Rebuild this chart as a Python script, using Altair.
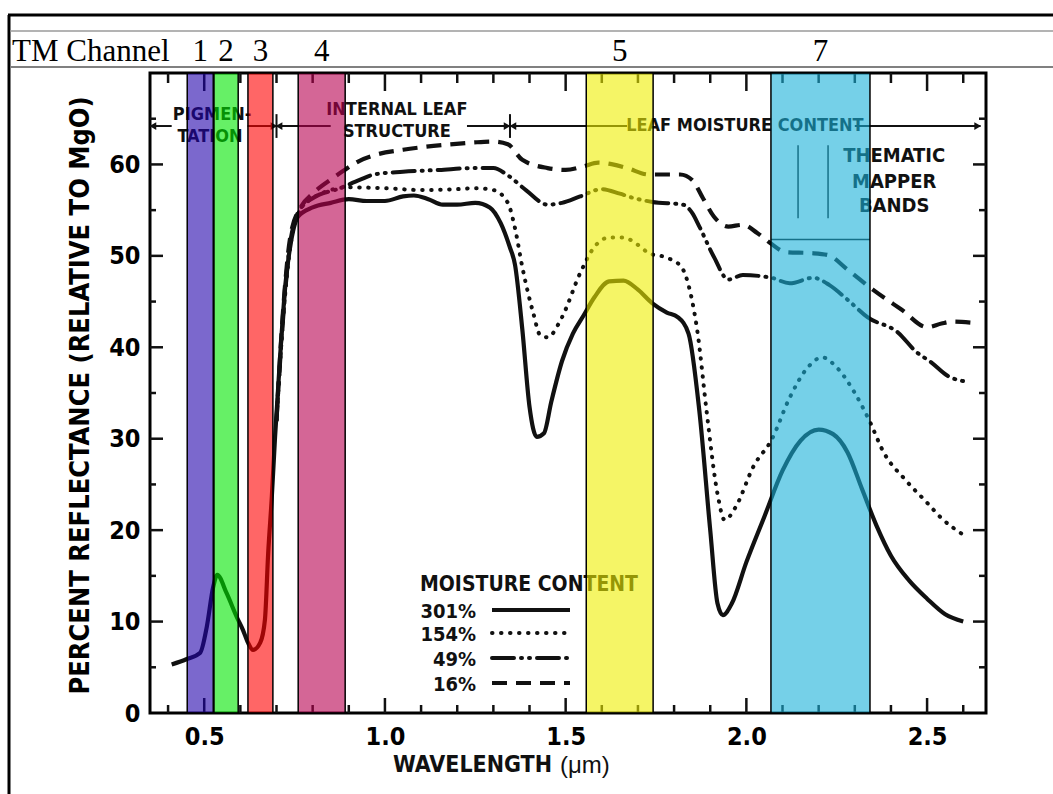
import altair as alt
import pandas as pd

# ---------------- data ----------------
# 301 % moisture (solid)
wl_301 = [0.41, 0.452, 0.489, 0.507, 0.525, 0.536, 0.562, 0.59, 0.607, 0.621,
          0.635, 0.655, 0.668, 0.677, 0.687, 0.696, 0.71, 0.725, 0.74, 0.76,
          0.80, 0.85, 0.90, 0.95, 1.00, 1.05, 1.08, 1.12, 1.16, 1.20,
          1.25, 1.29, 1.32, 1.345, 1.36, 1.38, 1.40, 1.42, 1.44, 1.46,
          1.49, 1.52, 1.55, 1.58, 1.62, 1.66, 1.70, 1.74, 1.78, 1.81,
          1.84, 1.87, 1.90, 1.92, 1.935, 1.96, 2.00, 2.05, 2.10, 2.15,
          2.20, 2.24, 2.28, 2.32, 2.36, 2.40, 2.45, 2.50, 2.55, 2.60]
r_301 = [5.3, 5.9, 6.6, 9.4, 13.8, 15.1, 13.1, 10.5, 9.1, 7.7,
         6.9, 7.7, 10.2, 17.5, 23.6, 30.2, 39.0, 47.0, 51.5, 54.3,
         55.3, 55.8, 56.2, 56.0, 56.0, 56.5, 56.6, 56.2, 55.6, 55.6,
         55.8, 55.3, 53.6, 51.0, 49.0, 42.0, 33.5, 30.2, 30.6, 34.0,
         38.5, 41.5, 43.5, 45.5, 47.2, 47.3, 46.3, 44.8, 43.8, 43.3,
         41.5, 33.0, 20.0, 12.0, 10.7, 12.0, 16.5, 21.5, 26.5, 29.8,
         31.0, 30.5, 28.5, 24.5, 20.5, 17.2, 14.5, 12.5, 10.8, 10.0]

# 154 % moisture (dotted)
wl_154 = [0.70, 0.72, 0.74, 0.76, 0.80, 0.85, 0.90, 1.00, 1.10, 1.20,
          1.25, 1.30, 1.34, 1.36, 1.38, 1.41, 1.43, 1.45, 1.49, 1.54,
          1.58, 1.62, 1.66, 1.70, 1.73, 1.78, 1.82, 1.845, 1.865, 1.89,
          1.92, 1.94, 1.97, 2.02, 2.07, 2.12, 2.17, 2.21, 2.25, 2.30,
          2.34, 2.38, 2.44, 2.50, 2.54, 2.60]
r_154 = [32.0, 44.0, 51.5, 54.8, 56.3, 57.2, 57.5, 57.4, 57.2, 57.3,
         57.4, 57.2, 55.8, 53.0, 48.8, 43.8, 41.3, 41.1, 43.3, 48.1,
         51.0, 52.0, 52.0, 51.2, 50.3, 49.8, 48.8, 46.0, 41.6, 33.0,
         24.0, 21.1, 22.5, 27.0, 29.9, 34.5, 37.8, 38.9, 37.8, 35.0,
         32.0, 28.5, 25.5, 23.0, 21.3, 19.5]

# 49 % moisture (dash-dot)
wl_49 = [0.70, 0.72, 0.74, 0.77, 0.80, 0.876, 0.93, 0.97, 1.05, 1.15,
         1.245, 1.30, 1.34, 1.39, 1.45, 1.49, 1.54, 1.60, 1.65, 1.69,
         1.74, 1.825, 1.85, 1.87, 1.91, 1.95, 1.99, 2.07, 2.12, 2.185,
         2.23, 2.28, 2.335, 2.42, 2.47, 2.51, 2.56, 2.60]
r_49 = [32.0, 44.0, 52.0, 55.3, 56.3, 57.4, 58.3, 58.9, 59.2, 59.4,
        59.6, 59.6, 58.8, 57.2, 55.6, 55.8, 56.5, 57.3, 56.8, 56.3,
        55.9, 55.6, 54.7, 53.2, 49.9, 47.4, 47.9, 47.6, 47.0, 47.6,
        46.8, 45.2, 43.3, 41.6, 39.5, 38.4, 36.8, 36.3]

# 16 % moisture (dashed)
wl_16 = [0.70, 0.72, 0.74, 0.77, 0.80, 0.856, 0.885, 0.93, 0.97, 1.05,
         1.105, 1.18, 1.245, 1.30, 1.34, 1.38, 1.45, 1.50, 1.55, 1.59,
         1.63, 1.67, 1.73, 1.817, 1.85, 1.88, 1.91, 1.95, 1.99, 2.03,
         2.066, 2.11, 2.18, 2.225, 2.28, 2.35, 2.43, 2.50, 2.54, 2.57,
         2.62]
r_16 = [32.0, 45.0, 52.5, 55.5, 56.8, 58.5, 59.3, 60.4, 61.0, 61.6,
        61.9, 62.2, 62.4, 62.5, 62.2, 60.5, 59.6, 59.4, 59.8, 60.2,
        60.0, 59.6, 58.9, 58.9, 58.3, 56.3, 54.3, 53.2, 53.4, 52.5,
        51.4, 50.4, 50.3, 50.1, 48.5, 46.3, 44.1, 42.2, 42.6, 42.8,
        42.7]

series_names = ["301%", "154%", "49%", "16%"]

# Thematic Mapper bands
band_names = ["1", "2", "3", "4", "5", "7"]
band_start = [0.453, 0.527, 0.621, 0.760, 1.557, 2.068]
band_end = [0.525, 0.594, 0.690, 0.890, 1.742, 2.342]
band_colors = ["#2303ac", "#00e600", "#ff0000", "#b70050", "#eeee00", "#19b1d9"]

# axes
x_label_vals = [0.5, 1.0, 1.5, 2.0, 2.5]
x_tick_vals = [0.4, 0.5, 0.6, 0.7, 0.8, 0.9, 1.0, 1.1, 1.2, 1.3, 1.4, 1.5,
               1.6, 1.7, 1.8, 1.9, 2.0, 2.1, 2.2, 2.3, 2.4, 2.5, 2.6]
y_label_vals = [0, 10, 20, 30, 40, 50, 60]
y_tick_vals = [5, 10, 15, 20, 25, 30, 35, 40, 45, 50, 55, 60, 65]

# annotations (region arrows)
ann_level = 64.2
seg_start = [0.35, 0.62, 0.70, 1.227, 1.346, 2.30]
seg_end = [0.41, 0.70, 0.85, 1.346, 1.67, 2.648]
arrow_wl = [0.358, 0.693, 0.707, 1.338, 1.354, 2.640]
arrow_shape = ["triangle-left", "triangle-right", "triangle-left",
               "triangle-right", "triangle-left", "triangle-right"]
divider_wl = [0.70, 1.346]
region_text = ["PIGMEN-", "TATION", "INTERNAL LEAF", "STRUCTURE", "LEAF MOISTURE CONTENT"]
region_wl = [0.522, 0.516, 1.033, 1.033, 1.996]
region_val = [65.4, 63.0, 65.95, 63.55, 64.2]
tm_text = ["THEMATIC", "MAPPER", "BANDS"]
tm_wl = [2.409, 2.409, 2.409]
tm_val = [60.92, 58.08, 55.45]
tm_vline_wl = [2.143, 2.226]
tm_vline_lo, tm_vline_hi = 54.1, 62.1
tm_hline = 51.8

# ---------------- styling ----------------
FONT_C = "Liberation Sans Narrow, DejaVu Sans Condensed, Arial Narrow, sans-serif"
FONT_B = "Liberation Sans, Arial, sans-serif"
FONT_S = "Liberation Serif, Times New Roman, serif"
W, H = 836, 640
INK = "#111111"

xscale = alt.Scale(domain=[0.35, 2.663], nice=False, zero=False)
yscale = alt.Scale(domain=[0, 70], nice=False, zero=False)
xaxis = alt.Axis(values=x_label_vals, format=".1f", ticks=False, domain=False, grid=False,
                 labelFont=FONT_C, labelFontSize=25, labelFontWeight="bold",
                 labelColor="black", labelPadding=11, labelBaseline="top")
yaxis = alt.Axis(values=y_label_vals, ticks=False, domain=False, grid=False,
                 labelFont=FONT_C, labelFontSize=25, labelFontWeight="bold",
                 labelColor="black", labelPadding=10,
                 title="PERCENT REFLECTANCE (RELATIVE TO MgO)",
                 titleFont=FONT_C, titleFontSize=27, titleFontWeight="bold",
                 titleColor="black", titleX=-70, titleY=322, titleAngle=270,
                 titleAlign="center", titleBaseline="middle")
X = alt.X("wl:Q", scale=xscale, axis=xaxis, title="")
Y = alt.Y("refl:Q", scale=yscale, axis=yaxis)

# ---------------- tables ----------------
rows = []
for name, wls, vals in zip(series_names, [wl_301, wl_154, wl_49, wl_16],
                           [r_301, r_154, r_49, r_16]):
    for w, v in zip(wls, vals):
        rows.append({"wl": w, "refl": v, "series": name})
curves = pd.DataFrame(rows)

bands = pd.DataFrame({"band": band_names, "wl": band_start, "wl_end": band_end})
bands["mid"] = (bands["wl"] + bands["wl_end"]) / 2

xt = pd.DataFrame({"wl": x_tick_vals})
xt["major"] = xt["wl"].apply(lambda v: any(abs(v - m) < 1e-9 for m in x_label_vals))
yt = pd.DataFrame({"refl": y_tick_vals})
yt["major"] = yt["refl"].apply(lambda v: v % 10 == 0)

segs = pd.DataFrame({"wl": seg_start, "wl_end": seg_end, "refl": [ann_level] * len(seg_start)})
arrows = pd.DataFrame({"wl": arrow_wl, "shape": arrow_shape, "refl": [ann_level] * len(arrow_wl)})
dividers = pd.DataFrame({"wl": divider_wl, "refl": [ann_level - 1.3] * 2, "refl2": [ann_level + 1.3] * 2})
rtext = pd.DataFrame({"text": region_text, "wl": region_wl, "refl": region_val})
ttext = pd.DataFrame({"text": tm_text, "wl": tm_wl, "refl": tm_val})
tvl = pd.DataFrame({"wl": tm_vline_wl, "refl": [tm_vline_lo] * 2, "refl2": [tm_vline_hi] * 2})
thl = pd.DataFrame({"wl": [band_start[-1]], "wl_end": [band_end[-1]], "refl": [tm_hline]})
one = pd.DataFrame({"k": [0]})

layers = []

# tick marks (inward)
def xticks(major, y0, y1):
    return alt.Chart(xt).transform_filter(
        alt.datum.major if major else ~alt.datum.major
    ).mark_rule(color=INK, strokeWidth=2.5).encode(x=X, y=alt.value(y0), y2=alt.value(y1))

def yticks(major, x0, x1):
    return alt.Chart(yt).transform_filter(
        alt.datum.major if major else ~alt.datum.major
    ).mark_rule(color=INK, strokeWidth=2.5).encode(y=Y, x=alt.value(x0), x2=alt.value(x1))

layers += [xticks(True, H, H - 15), xticks(False, H, H - 8),
           xticks(True, 0, 18), xticks(False, 0, 10),
           yticks(True, 0, 13), yticks(False, 0, 6),
           yticks(True, W, W - 13), yticks(False, W, W - 7)]

# region annotation
layers.append(alt.Chart(segs).mark_rule(color=INK, strokeWidth=2).encode(
    x=X, x2="wl_end:Q", y=Y))
layers.append(alt.Chart(arrows).mark_point(filled=True, color=INK, size=60, opacity=1).encode(
    x=X, y=Y, shape=alt.Shape("shape:N", scale=None)))
layers.append(alt.Chart(dividers).mark_rule(color=INK, strokeWidth=2).encode(
    x=X, y=Y, y2="refl2:Q"))
layers.append(alt.Chart(rtext).mark_text(font=FONT_C, fontSize=18, fontWeight="bold",
                                          color=INK, baseline="middle", align="center").encode(
    x=X, y=Y, text="text:N"))
layers.append(alt.Chart(ttext).mark_text(font=FONT_C, fontSize=20, fontWeight="bold",
                                          color=INK, baseline="middle", align="center").encode(
    x=X, y=Y, text="text:N"))
layers.append(alt.Chart(tvl).mark_rule(color=INK, strokeWidth=1.5).encode(x=X, y=Y, y2="refl2:Q"))
layers.append(alt.Chart(thl).mark_rule(color=INK, strokeWidth=1.5).encode(x=X, x2="wl_end:Q", y=Y))

# curves
styles = {
    "301%": dict(strokeWidth=4.2),
    "154%": dict(strokeWidth=4, strokeDash=[0.5, 8.5], strokeCap="round"),
    "49%": dict(strokeWidth=4, strokeDash=[22, 7, 1, 7, 1, 7], strokeCap="round"),
    "16%": dict(strokeWidth=4.2, strokeDash=[15, 9]),
}
for name in series_names:
    layers.append(alt.Chart(curves).transform_filter(alt.datum.series == name).mark_line(
        color=INK, interpolate="monotone", **styles[name]).encode(x=X, y=Y))

# legend (drawn like the original, labels left of samples)
leg_y = [537, 560, 585, 610]
layers.append(alt.Chart(pd.DataFrame({"t": ["MOISTURE CONTENT"]})).mark_text(
    font=FONT_C, fontSize=21, fontWeight="bold", color=INK, align="left", baseline="middle").encode(
    text="t:N", x=alt.value(270), y=alt.value(512)))
for name, yy in zip(series_names, leg_y):
    layers.append(alt.Chart(pd.DataFrame({"t": [name]})).mark_text(
        font=FONT_C, fontSize=20, fontWeight="bold", color=INK, align="right", baseline="middle").encode(
        text="t:N", x=alt.value(326), y=alt.value(yy + 2)))
    layers.append(alt.Chart(one).mark_rule(color=INK, **styles[name]).encode(
        x=alt.value(342), x2=alt.value(420), y=alt.value(yy)))

# x-axis title
layers.append(alt.Chart(pd.DataFrame({"t": ["WAVELENGTH"]})).mark_text(
    font=FONT_C, fontSize=23, fontWeight="bold", color=INK, align="left", baseline="middle").encode(
    text="t:N", x=alt.value(243), y=alt.value(692)))
layers.append(alt.Chart(pd.DataFrame({"t": ["(\u03bcm)"]})).mark_text(
    font=FONT_B, fontSize=24, color=INK, align="left", baseline="middle").encode(
    text="t:N", x=alt.value(410), y=alt.value(693)))

# page header
layers.append(alt.Chart(one).mark_rule(color="black", strokeWidth=3).encode(
    x=alt.value(-142), x2=alt.value(903), y=alt.value(-58)))
layers.append(alt.Chart(one).mark_rule(color="black", strokeWidth=3).encode(
    x=alt.value(-141), y=alt.value(-58), y2=alt.value(721)))
layers.append(alt.Chart(one).mark_rule(color="#9a9a9a", strokeWidth=1.5).encode(
    x=alt.value(-140), x2=alt.value(903), y=alt.value(-42)))
layers.append(alt.Chart(one).mark_rule(color="#808080", strokeWidth=2).encode(
    x=alt.value(-140), x2=alt.value(903), y=alt.value(-6)))
layers.append(alt.Chart(pd.DataFrame({"t": ["TM Channel"]})).mark_text(
    font=FONT_S, fontSize=31, color="black", align="left", baseline="alphabetic").encode(
    text="t:N", x=alt.value(-138), y=alt.value(-12)))
layers.append(alt.Chart(bands).mark_text(
    font=FONT_S, fontSize=31, color="black", align="center", baseline="alphabetic").encode(
    text="band:N", x=alt.X("mid:Q", scale=xscale, axis=xaxis, title=""), y=alt.value(-12)))

# TM band overlays (on top, translucent)
layers.append(alt.Chart(bands).mark_rect(fillOpacity=0.6, stroke="black", strokeWidth=1.5,
                                         strokeOpacity=1).encode(
    x=X, x2="wl_end:Q", y=alt.value(0), y2=alt.value(H),
    color=alt.Color("band:N", scale=alt.Scale(domain=band_names, range=band_colors), legend=None)))

chart = alt.layer(*layers).properties(
    width=W, height=H, autosize="none",
    padding={"left": 150, "top": 73, "right": 67, "bottom": 81},
    background="white",
).configure_view(stroke="black", strokeWidth=3)

chart.save("out.html", embed_options={"renderer": "svg", "actions": False})
